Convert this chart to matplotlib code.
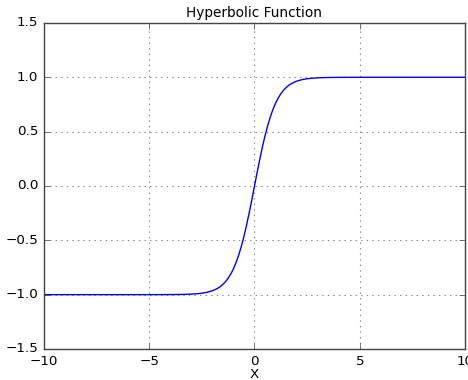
import matplotlib
matplotlib.use("Agg")
import matplotlib.pyplot as plt

plt.style.use("classic")

# Values
x_vals = [-10, -8, -6, -5, -4, -3.5, -3, -2.75, -2.5, -2.25, -2, -1.875, -1.75, -1.625,
          -1.5, -1.375, -1.25, -1.125, -1, -0.875, -0.75, -0.625, -0.5, -0.375, -0.25,
          -0.125, 0, 0.125, 0.25, 0.375, 0.5, 0.625, 0.75, 0.875, 1, 1.125, 1.25, 1.375,
          1.5, 1.625, 1.75, 1.875, 2, 2.25, 2.5, 2.75, 3, 3.5, 4, 5, 6, 8, 10]
y_vals = [-1.0, -1.0, -1.0, -0.9999, -0.9993, -0.9982, -0.9951, -0.9918, -0.9866, -0.9780,
          -0.9640, -0.9540, -0.9414, -0.9259, -0.9051, -0.8801, -0.8483, -0.8094, -0.7616,
          -0.7039, -0.6351, -0.5546, -0.4621, -0.3584, -0.2449, -0.1244, 0.0, 0.1244,
          0.2449, 0.3584, 0.4621, 0.5546, 0.6351, 0.7039, 0.7616, 0.8094, 0.8483, 0.8801,
          0.9051, 0.9259, 0.9414, 0.9540, 0.9640, 0.9780, 0.9866, 0.9918, 0.9951, 0.9982,
          0.9993, 0.9999, 1.0, 1.0, 1.0]
title = "Hyperbolic Function"
xlabel = "X"

fig = plt.figure(figsize=(4.68, 3.8), dpi=100, facecolor="white")
ax = fig.add_axes([0.094, 0.0816, 0.8996, 0.858])
ax.plot(x_vals, y_vals, color="b", lw=1)
ax.set_xlim(-10, 10)
ax.set_ylim(-1.5, 1.5)
ax.set_xticks([-10, -5, 0, 5, 10])
ax.set_yticks([-1.5, -1.0, -0.5, 0.0, 0.5, 1.0, 1.5])
ax.set_axisbelow(True)
ax.grid(True, color="#888888", linestyle=":", linewidth=0.8)
for s in ax.spines.values():
    s.set_color("#444444")
    s.set_zorder(5)
ax.tick_params(labelsize=9.7, color="#444444")
ax.set_title(title, fontsize=9.8, pad=4)
ax.set_xlabel(xlabel, fontsize=9.7, labelpad=0)
fig.savefig("out.png", dpi=100, facecolor="white")
